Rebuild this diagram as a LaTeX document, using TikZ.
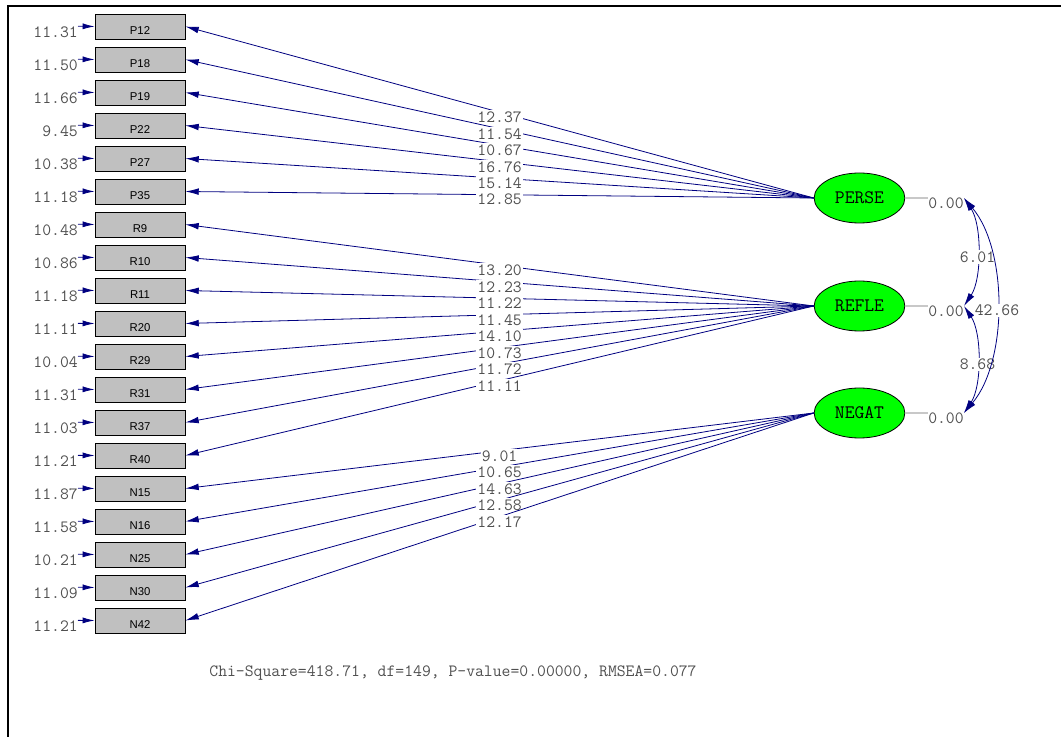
\documentclass[tikz,border=0pt]{standalone}
\usepackage{fontspec}
\usepackage{tikz}
\usetikzlibrary{arrows.meta,shapes.geometric}
\newfontfamily\lissans{Liberation Sans}
\definecolor{lisblue}{RGB}{0,0,128}
\definecolor{boxgray}{RGB}{192,192,192}
\definecolor{numgray}{RGB}{80,80,80}
\definecolor{vargray}{RGB}{200,200,200}

\begin{document}
\begin{tikzpicture}[x=0.75pt, y=-0.75pt,
        obs/.style = {shape=rectangle, draw, fill=boxgray, line width=0.6pt,
        minimum width=67.5pt, minimum height=18.75pt, inner sep=0pt,
        text height=12.5pt, text depth=0pt, font=\lissans\fontsize{8.5}{9}\selectfont},
        lat/.style = {shape=ellipse, draw, fill=green, line width=0.6pt,
        minimum width=68pt, minimum height=37.5pt, inner sep=0pt,
        font=\ttfamily\fontsize{14.3}{16}\selectfont},
        num/.style = {text=numgray, inner sep=0pt, font=\ttfamily\fontsize{12.9}{14}\selectfont},
        lab/.style = {num, fill=white, inner sep=1pt, yshift=-3.75pt},
        loadarrow/.style = {draw=lisblue, line width=0.6pt, -{Latex[length=10pt, width=5pt]}},
        errarrow/.style = {draw=lisblue, line width=0.6pt, -{Latex[length=9pt, width=4.5pt]}},
        covarrow/.style = {draw=lisblue, line width=0.6pt,
        {Latex[length=10pt, width=5pt]}-{Latex[length=10pt, width=5pt]}},
        varline/.style = {draw=vargray, line width=1pt}]
    \useasboundingbox (0,0) rectangle (1061,737);
    \draw[line width=1.5pt] (1061,6) -- (8,6) -- (8,737);

    \foreach \name [count=\i from 0] in {P12,P18,P19,P22,P27,P35,R9,R10,R11,R20,R29,R31,R37,R40,N15,N16,N25,N30,N42}
        \node[obs] (b\i) at (140, 26.5+33*\i) {\name};
    \foreach \v [count=\i from 0] in {11.31,11.50,11.66,9.45,10.38,11.18,10.48,10.86,11.18,11.11,10.04,11.31,11.03,11.21,11.87,11.58,10.21,11.09,11.21} {
        \node[num, anchor=east] (e\i) at (78, 32+33*\i) {\v};
        \draw[errarrow] (e\i.north east) -- (b\i.west);
    }

    \node[lat] (PERSE) at (859.5,198) {PERSE};
    \node[lat] (REFLE) at (859.5,306) {REFLE};
    \node[lat] (NEGAT) at (859.5,413) {NEGAT};

    \foreach \i/\v in {0/12.37,1/11.54,2/10.67,3/16.76,4/15.14,5/12.85}
        \draw[loadarrow] (PERSE.west) -- node[lab, pos=0.5] {\v} (b\i.east);
    \foreach \i/\v in {6/13.20,7/12.23,8/11.22,9/11.45,10/14.10,11/10.73,12/11.72,13/11.11}
        \draw[loadarrow] (REFLE.west) -- node[lab, pos=0.5] {\v} (b\i.east);
    \foreach \i/\v in {14/9.01,15/10.65,16/14.63,17/12.58,18/12.17}
        \draw[loadarrow] (NEGAT.west) -- node[lab, pos=0.5] {\v} (b\i.east);

    \node[num, anchor=north west] (v1) at (928,198) {0.00};
    \node[num, anchor=north west] (v2) at (928,306) {0.00};
    \node[num, anchor=north west] (v3) at (928,413) {0.00};
    \draw[varline] (PERSE.east) -- (v1.north west);
    \draw[varline] (REFLE.east) -- (v2.north west);
    \draw[varline] (NEGAT.east) -- (v3.north west);

    \draw[covarrow] (v1.north east) .. controls +(18,27) and +(18,-27) .. node[lab, pos=0.5] {6.01} (v2.north east);
    \draw[covarrow] (v2.north east) .. controls +(18,27) and +(18,-27) .. node[lab, pos=0.5] {8.68} (v3.north east);
    \draw[covarrow] (v1.north east) .. controls +(44,52) and +(44,-52) .. node[lab, pos=0.5] {42.66} (v3.north east);

    \node[num] (fit) at (453,673) {Chi-Square=418.71, df=149, P-value=0.00000, RMSEA=0.077};
\end{tikzpicture}
\end{document}
